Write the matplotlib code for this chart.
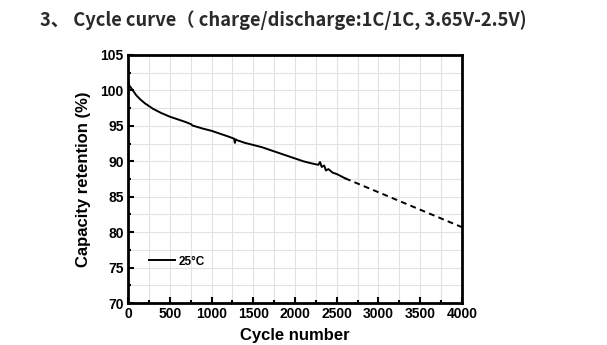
import matplotlib
matplotlib.use("Agg")
import matplotlib.pyplot as plt
from matplotlib.ticker import MultipleLocator

# measured curve, 25 °C
cycles = [0, 15, 40, 70, 100, 150, 200, 250, 300, 400, 500, 600, 700, 760, 770, 800,
          900, 1000, 1100, 1200, 1270, 1280, 1290, 1300, 1400, 1500, 1600, 1700,
          1800, 1900, 2000, 2100, 2200, 2280, 2300, 2320, 2350, 2370, 2400, 2450,
          2500, 2550, 2600]
retention = [101.0, 100.7, 100.3, 99.8, 99.3, 98.7, 98.2, 97.8, 97.4, 96.8, 96.3,
             95.9, 95.5, 95.2, 95.05, 94.95, 94.6, 94.3, 93.9, 93.5, 93.2, 92.6, 93.1,
             93.0, 92.6, 92.3, 92.0, 91.6, 91.2, 90.8, 90.4, 90.0, 89.7, 89.5, 89.9,
             89.2, 89.4, 88.7, 88.9, 88.4, 88.2, 87.9, 87.6]
# extrapolation
ext_cycles = [2600, 4000]
ext_retention = [87.6, 80.7]

fig = plt.figure(figsize=(6.07, 3.45), dpi=100)
ax = fig.add_axes([0.2109, 0.1217, 0.5502, 0.7189])

ax.plot(cycles, retention, color="black", lw=1.4, label="25°C")
ax.plot(ext_cycles, ext_retention, color="black", lw=1.4, ls=(0, (3, 2.2)))

ax.set_xlim(0, 4000)
ax.set_ylim(70, 105)
ax.xaxis.set_major_locator(MultipleLocator(500))
ax.xaxis.set_minor_locator(MultipleLocator(250))
ax.yaxis.set_major_locator(MultipleLocator(5))
ax.yaxis.set_minor_locator(MultipleLocator(2.5))
ax.grid(which="both", color="#e2e2e2", lw=0.8)
ax.set_axisbelow(True)
ax.tick_params(which="both", direction="in", width=1.5)
ax.tick_params(which="major", length=4, labelsize=10, pad=3)
ax.tick_params(which="minor", length=2.5)
for lab in ax.get_xticklabels() + ax.get_yticklabels():
    lab.set_fontweight("bold")
    lab.set_family("Liberation Sans")
for s in ax.spines.values():
    s.set_linewidth(2)

ax.set_xlabel("Cycle number", fontsize=12, fontweight="bold", family="Liberation Sans", labelpad=5)
ax.set_ylabel("Capacity retention (%)", fontsize=12, fontweight="bold", family="Liberation Sans", labelpad=7)

leg = ax.legend(loc="lower left", bbox_to_anchor=(0.03, 0.1), frameon=False,
                handlelength=2.2, handletextpad=0.3,
                prop={"family": "Liberation Sans", "weight": "bold", "size": 8.5})

fig.text(0.066, 0.94, "3、 Cycle curve（ charge/discharge:1C/1C, 3.65V-2.5V)",
         fontsize=13.2, fontweight="bold", color="#2a2a2a",
         family=["Noto Sans CJK SC", "DejaVu Sans"], va="center")

fig.savefig("out.png", dpi=100)
